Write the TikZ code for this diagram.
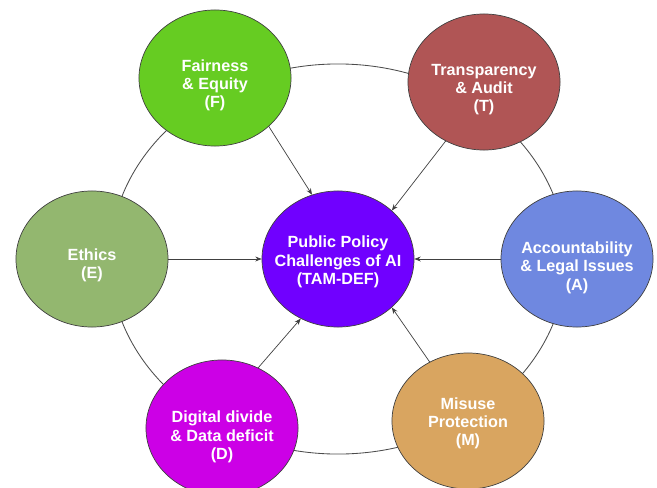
\documentclass[tikz,border=0pt]{standalone}
\usepackage{fontspec}
\setmainfont{Liberation Sans}
\usetikzlibrary{arrows.meta,shapes.geometric,backgrounds}

\definecolor{fairgreen}{RGB}{102,204,34}
\definecolor{transred}{RGB}{176,85,85}
\definecolor{ethicsgreen}{RGB}{147,183,111}
\definecolor{policyviolet}{RGB}{112,0,255}
\definecolor{accblue}{RGB}{111,136,224}
\definecolor{digimagenta}{RGB}{204,0,230}
\definecolor{misuseorange}{RGB}{217,165,96}

\begin{document}
\begin{tikzpicture}[x=0.025cm,y=-0.025cm
	,>={Stealth[length=4.5pt,width=3.5pt]}
	,semithick]
  \tikzstyle{topic}=[ellipse,draw=black!75,line width=0.5pt
	,inner xsep=-1cm,inner ysep=-0.8cm,text height=44.5pt
	,minimum width=3.8cm,minimum height=3.4cm,align=center
	,text=white,font=\fontsize{11.5}{13}\selectfont\bfseries]
  \tikzstyle{feed}=[->,draw=black!75,line width=0.5pt]
  \tikzstyle{ring}=[draw=black!70,line width=0.6pt]

  \useasboundingbox (0,0) rectangle (657,487);

  % hub in the middle
  \node[topic,fill=policyviolet,text height=38.5pt](hub) at (338,259) {Public Policy\\Challenges of AI\\(TAM-DEF)};
  % six challenges round it
  \node[topic,fill=fairgreen](fair) at (215,78) {Fairness\\\& Equity\\(F)};
  \node[topic,fill=transred,text height=45pt](trans) at (484,82) {Transparency\\\& Audit\\(T)};
  \node[topic,fill=ethicsgreen,text height=30.5pt](ethics) at (92,259) {Ethics\\(E)};
  \node[topic,fill=accblue,text height=46.5pt](acc) at (577,259) {Accountability\\\& Legal Issues\\(A)};
  \node[topic,fill=digimagenta,text height=47pt](digi) at (222,428) {Digital divide\\\& Data deficit\\(D)};
  \node[topic,fill=misuseorange,text height=37.5pt](misuse) at (468,421) {Misuse\\Protection\\(M)};

  % outer ring behind the circles
  \begin{scope}[on background layer]
    \path[ring] (hub) ellipse [x radius=5.7cm,y radius=4.875cm];
  \end{scope}

  \path
 	(fair.-42) edge[feed] (hub.112)
 	(trans.-123) edge[feed] (hub.42)
 	(ethics) edge[feed] (hub)
 	(acc) edge[feed] (hub)
 	(digi.59) edge[feed] (hub.-122)
 	(misuse.123) edge[feed] (hub.-42);

\end{tikzpicture}
\end{document}
